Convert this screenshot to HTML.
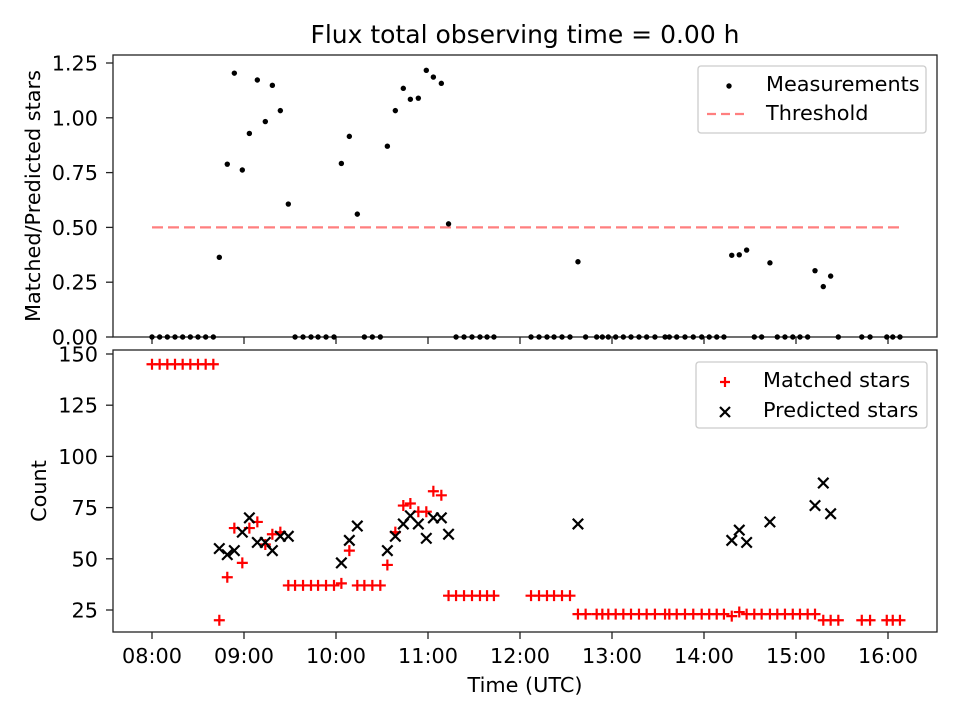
<!DOCTYPE html>
<html><head><meta charset="utf-8"><style>
html,body{margin:0;padding:0;background:#fff;}
svg{display:block;font-family:"DejaVu Sans","Liberation Sans",sans-serif;}
</style></head><body>
<svg id="chart" width="960" height="720" viewBox="0 0 960 720" xmlns="http://www.w3.org/2000/svg">
<rect width="960" height="720" fill="#fff"/>
<text x="525" y="43" font-size="25" text-anchor="middle">Flux total observing time = 0.00 h</text>
<g id="topPanel"></g><g id="botPanel"></g>
</svg>
<script>
// minutes after 08:00
const times=[0,5,10,15,20,25,30,35,40,43.9,49.1,53.7,58.9,63.5,68.7,73.9,78.5,83.7,88.9,
93.3,98.5,103.7,108.3,113.5,118.7,123.5,128.7,133.9,138.5,143.7,148.9,153.5,158.7,163.9,168.5,173.7,178.9,183.5,188.7,193.4,
198.3,203.5,208.7,213.9,218.5,223.0,247.2,252.4,257.6,262.2,267.4,272.6,277.8,
282.8,290,293.7,297.6,302.4,307.4,312.4,317.6,322.6,328,334.6,337.4,342.2,347.6,353,358.5,363.4,368.3,373,378.1,383,387.8,392.8,397.6,403,407.8,412.8,417.9,422.6,427.6,432.4,437.8,442.6,447.6,462.9,468.3,479.2,483.1,487.8];
const matched=[145,145,145,145,145,145,145,145,145,20,41,65,48,65,68,57,62,63,37,
37,37,37,37,37,37,38,54,37,37,37,37,47,63,76,77,73,73,83,81,32,
32,32,32,32,32,32,32,32,32,32,32,32,23,
23,23,23,23,23,23,23,23,23,23,23,23,23,23,23,23,23,23,23,22,24,23,23,23,23,23,23,23,23,23,23,20,20,20,20,20,20,20,20];
const predicted=[null,null,null,null,null,null,null,null,null,55,52,54,63,70,58,58,54,61,61,
null,null,null,null,null,null,48,59,66,null,null,null,54,61,67,71,67,60,70,70,62,
null,null,null,null,null,null,null,null,null,null,null,null,67,
null,null,null,null,null,null,null,null,null,null,null,null,null,null,null,null,null,null,null,59,64,58,null,null,68,null,null,null,null,null,76,87,72,null,null,null,null,null,null];
const threshold=0.5;
const xTicks=["08:00","09:00","10:00","11:00","12:00","13:00","14:00","15:00","16:00"];
const topTicks=[0,0.25,0.5,0.75,1.0,1.25];
const botTicks=[25,50,75,100,125,150];

const NS="http://www.w3.org/2000/svg";
const L=113,R=937,T1=55,B1=337,T2=350,B2=632,FS=20.8;
const xs=m=>152+m*92/60;
const y1=v=>337-v*219.2;
const y2=v=>610-(v-25)*2.048;
function mk(p,tag,a){const e=document.createElementNS(NS,tag);for(const k in a)e.setAttribute(k,a[k]);p.appendChild(e);return e;}
const topG=document.getElementById('topPanel'),botG=document.getElementById('botPanel');

const tf=mk(topG,'rect',{x:L,y:T1,width:R-L,height:B1-T1,fill:'none',stroke:'#222','stroke-width':1.3});


topTicks.forEach(v=>{
  const y=y1(v);
  const t=mk(topG,'line',{x1:L-7,x2:L,y1:y,y2:y,stroke:'#222','stroke-width':1.3});
  
  
  const tx=mk(topG,'text',{x:L-15,y:y+7.5,'font-size':FS,'text-anchor':'end'});
  tx.textContent=v.toFixed(2);
  
  
});
xTicks.forEach((s,i)=>{
  const x=xs(i*60);
  const t=mk(topG,'line',{x1:x,x2:x,y1:B1,y2:B1+7,stroke:'#222','stroke-width':1.3});
  
  
});
const yl1=mk(topG,'text',{x:0,y:0,'font-size':FS,'text-anchor':'middle',transform:`translate(40,${(T1+B1)/2}) rotate(-90)`});
yl1.textContent='Matched/Predicted stars';


const th=mk(topG,'line',{x1:xs(times[0]),x2:xs(times[times.length-1]),y1:y1(threshold),y2:y1(threshold),stroke:'#ff7f7f','stroke-width':2.2,'stroke-dasharray':'11 5'});


times.forEach((m,i)=>{
  const r=predicted[i]?matched[i]/predicted[i]:0;
  const c=mk(topG,'circle',{cx:xs(m),cy:y1(r),r:2.7,fill:'#000'});
  
  
});
const lg1=mk(topG,'g',{});


mk(lg1,'rect',{x:698,y:66,width:228,height:67,rx:3,fill:'#fff','fill-opacity':0.8,stroke:'#ccc','stroke-width':1.3});
mk(lg1,'circle',{cx:729,cy:86,r:2.7,fill:'#000'});
mk(lg1,'line',{x1:707,x2:748,y1:114,y2:114,stroke:'#ff7f7f','stroke-width':2.2,'stroke-dasharray':'9 5'});
const a1=mk(lg1,'text',{x:766,y:91,'font-size':FS});a1.textContent='Measurements';


const a2=mk(lg1,'text',{x:766,y:120,'font-size':FS});a2.textContent='Threshold';



const bf=mk(botG,'rect',{x:L,y:T2,width:R-L,height:B2-T2,fill:'none',stroke:'#222','stroke-width':1.3});


botTicks.forEach(v=>{
  const y=y2(v);
  const t=mk(botG,'line',{x1:L-7,x2:L,y1:y,y2:y,stroke:'#222','stroke-width':1.3});
  
  
  const tx=mk(botG,'text',{x:L-15,y:y+7.5,'font-size':FS,'text-anchor':'end'});
  tx.textContent=v;
  
  
});
xTicks.forEach((s,i)=>{
  const x=xs(i*60);
  const t=mk(botG,'line',{x1:x,x2:x,y1:B2,y2:B2+7,stroke:'#222','stroke-width':1.3});
  
  
  const tx=mk(botG,'text',{x:x,y:663,'font-size':FS,'text-anchor':'middle'});
  tx.textContent=s;
  
  
});
const yl2=mk(botG,'text',{x:0,y:0,'font-size':FS,'text-anchor':'middle',transform:`translate(46,${(T2+B2)/2}) rotate(-90)`});
yl2.textContent='Count';


const xl=mk(botG,'text',{x:525,y:692,'font-size':FS,'text-anchor':'middle'});
xl.textContent='Time (UTC)';


function plus(p,x,y,s){return mk(p,'path',{d:`M${x-s},${y}H${x+s}M${x},${y-s}V${y+s}`,stroke:'#f00','stroke-width':2.2,fill:'none'});}
function cross(p,x,y,s){return mk(p,'path',{d:`M${x-s},${y-s}L${x+s},${y+s}M${x-s},${y+s}L${x+s},${y-s}`,stroke:'#000','stroke-width':2.2,fill:'none'});}
times.forEach((m,i)=>{
  const e=plus(botG,xs(m),y2(matched[i]),5.5);
  
  
});
times.forEach((m,i)=>{
  if(predicted[i]==null)return;
  const e=cross(botG,xs(m),y2(predicted[i]),5.2);
  
  
});
const lg2=mk(botG,'g',{});


mk(lg2,'rect',{x:696,y:362,width:231,height:66,rx:3,fill:'#fff','fill-opacity':0.8,stroke:'#ccc','stroke-width':1.3});
plus(lg2,725,382,5);
cross(lg2,725,412,5);
const b1=mk(lg2,'text',{x:763,y:387,'font-size':FS});b1.textContent='Matched stars';


const b2=mk(lg2,'text',{x:763,y:417,'font-size':FS});b2.textContent='Predicted stars';


</script>
</body></html>
